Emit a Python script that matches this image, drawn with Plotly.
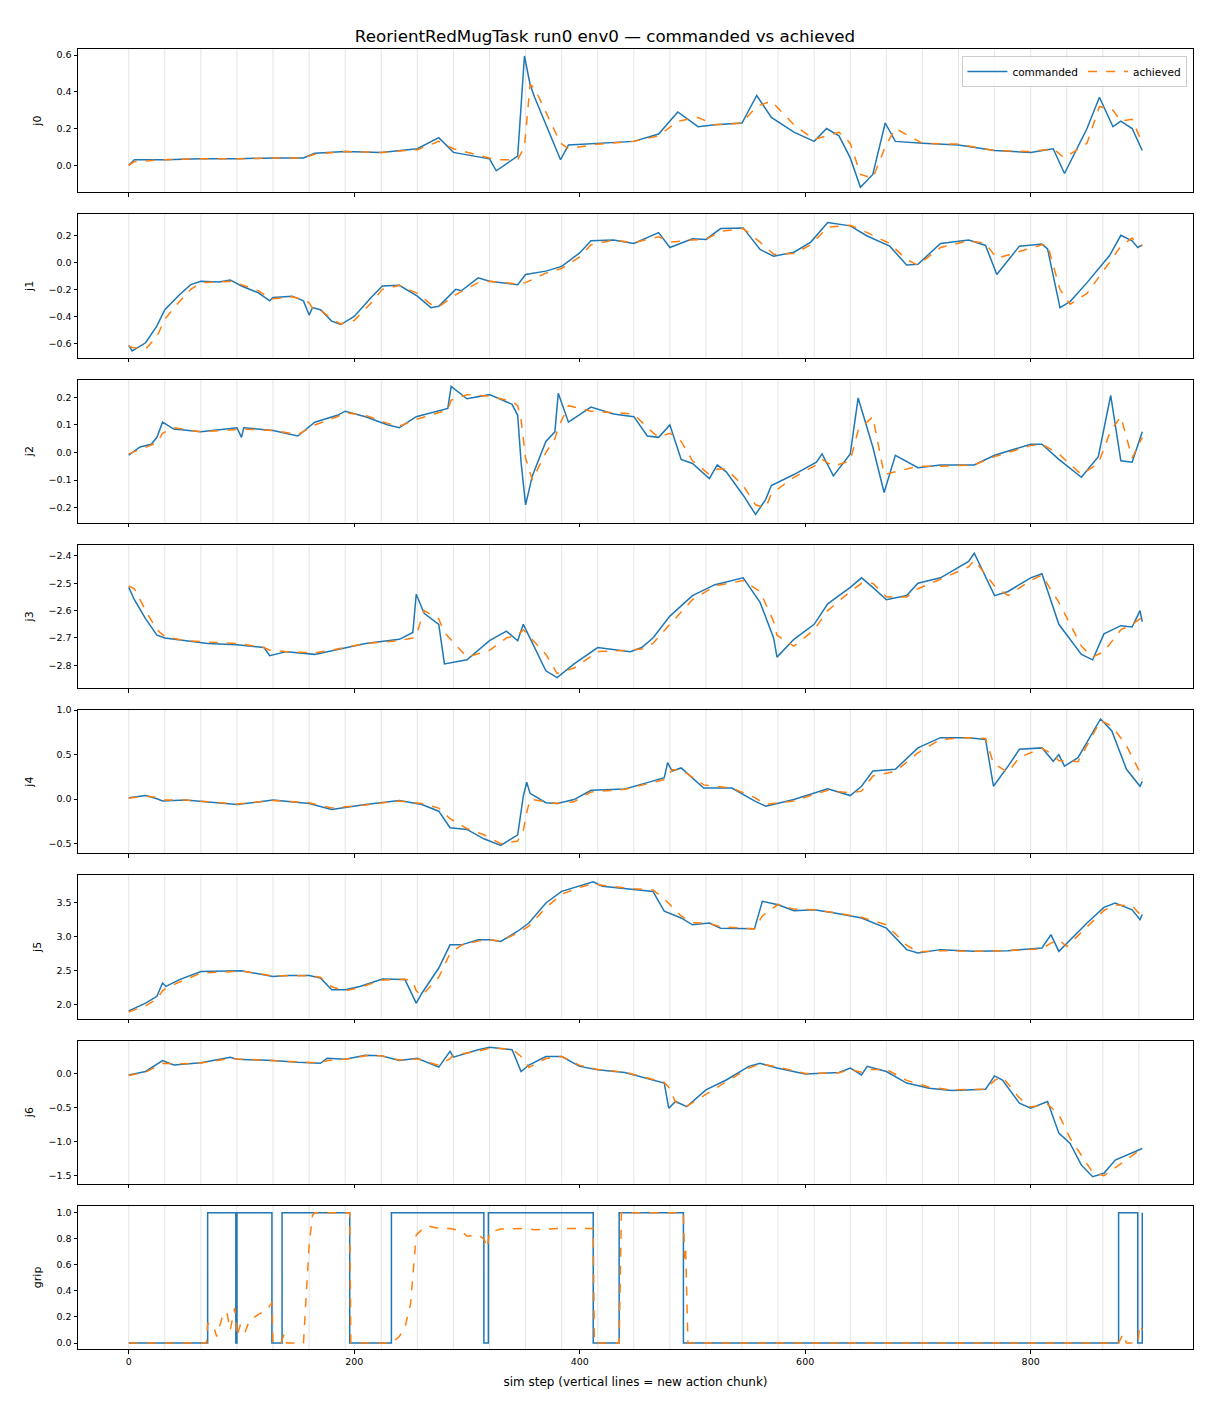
import plotly.graph_objects as go
from plotly.subplots import make_subplots

# ---------------- data ----------------
chunk_starts = [0, 32, 64, 96, 128, 160, 192, 224, 256, 288, 320, 352, 384, 416, 448,
                480, 512, 544, 576, 608, 640, 672, 704, 736, 768, 800, 832, 864, 896]

steps0 = [0, 5, 32, 64, 96, 128, 155, 165, 192, 224, 256, 275, 288, 320, 326, 345, 351, 356, 360, 383,
          390, 416, 448, 470, 487, 505, 520, 544, 557, 570, 590, 608, 619, 630, 640, 649, 660, 671, 680, 704,
          736, 768, 800, 820, 830, 850, 861, 873, 880, 890, 899]
cmd0 = [0.0, 0.03, 0.03, 0.035, 0.035, 0.04, 0.04, 0.065, 0.075, 0.07,
        0.09, 0.15, 0.07, 0.035, -0.03, 0.05, 0.595, 0.44, 0.37, 0.03,
        0.11, 0.12, 0.13, 0.17, 0.29, 0.21, 0.22, 0.23, 0.38, 0.26,
        0.18, 0.13, 0.2, 0.16, 0.04, -0.12, -0.05, 0.23, 0.13, 0.12,
        0.11, 0.08, 0.07, 0.09, -0.045, 0.2, 0.37, 0.21, 0.24, 0.2, 0.08]
ach0 = [0.0, 0.02, 0.03, 0.035, 0.035, 0.04, 0.04, 0.06, 0.075, 0.07,
        0.085, 0.13, 0.09, 0.04, 0.03, 0.03, 0.1, 0.44, 0.42, 0.12,
        0.09, 0.115, 0.13, 0.16, 0.24, 0.26, 0.22, 0.23, 0.32, 0.35,
        0.22, 0.14, 0.16, 0.18, 0.12, -0.05, -0.07, 0.1, 0.2, 0.12,
        0.115, 0.08, 0.075, 0.09, 0.04, 0.12, 0.32, 0.3, 0.24, 0.25, 0.12]

steps1 = [0, 3, 15, 25, 32, 45, 55, 64, 80, 90, 100, 115, 125, 128, 145, 155, 160, 163, 170, 180,
          188, 200, 215, 225, 240, 256, 268, 275, 290, 295, 310, 320, 345, 352, 370, 384, 400, 410, 430, 448,
          470, 480, 500, 512, 525, 545, 560, 572, 590, 605, 620, 640, 655, 675, 690, 700, 720, 745, 760, 770,
          790, 810, 815, 826, 835, 850, 870, 880, 890, 895, 899]
cmd1 = [-0.615, -0.655, -0.595, -0.47, -0.35, -0.24, -0.165, -0.14, -0.145, -0.13,
        -0.175, -0.225, -0.285, -0.26, -0.25, -0.285, -0.39, -0.335, -0.35, -0.435,
        -0.46, -0.4, -0.26, -0.175, -0.17, -0.25, -0.335, -0.325, -0.2, -0.21,
        -0.115, -0.14, -0.165, -0.09, -0.065, -0.03, 0.07, 0.16, 0.165, 0.14,
        0.22, 0.11, 0.175, 0.17, 0.25, 0.255, 0.095, 0.045, 0.075, 0.15,
        0.295, 0.27, 0.195, 0.12, -0.02, -0.015, 0.14, 0.165, 0.125, -0.09,
        0.12, 0.135, 0.1, -0.335, -0.29, -0.15, 0.05, 0.2, 0.16, 0.11, 0.13]
ach1 = [-0.62, -0.63, -0.64, -0.55, -0.42, -0.29, -0.2, -0.15, -0.145, -0.14,
        -0.165, -0.21, -0.265, -0.27, -0.255, -0.275, -0.3, -0.34, -0.35, -0.42,
        -0.455, -0.43, -0.3, -0.2, -0.17, -0.23, -0.31, -0.33, -0.24, -0.215,
        -0.15, -0.14, -0.16, -0.15, -0.08, -0.045, 0.04, 0.13, 0.165, 0.145,
        0.19, 0.15, 0.165, 0.17, 0.23, 0.25, 0.15, 0.06, 0.065, 0.13,
        0.26, 0.275, 0.22, 0.14, 0.02, -0.02, 0.11, 0.16, 0.14, 0.03,
        0.08, 0.13, 0.13, -0.2, -0.31, -0.23, 0.0, 0.12, 0.18, 0.14, 0.12]

steps2 = [0, 10, 20, 25, 30, 40, 64, 96, 100, 102, 128, 150, 165, 185, 192, 210, 230, 240, 255, 270,
          283, 286, 300, 320, 340, 345, 348, 352, 358, 370, 378, 381, 390, 410, 430, 448, 460, 470, 480, 490,
          500, 515, 522, 530, 545, 556, 565, 570, 590, 610, 615, 625, 640, 647, 660, 670, 680, 700, 720, 750,
          768, 800, 810, 825, 845, 860, 871, 880, 890, 899]
cmd2 = [-0.01, 0.02, 0.03, 0.055, 0.11, 0.085, 0.075, 0.09, 0.055, 0.09,
        0.08, 0.06, 0.11, 0.135, 0.15, 0.13, 0.1, 0.09, 0.13, 0.145,
        0.16, 0.24, 0.195, 0.21, 0.175, 0.135, -0.035, -0.19, -0.085, 0.04,
        0.075, 0.215, 0.11, 0.165, 0.14, 0.13, 0.06, 0.055, 0.1, -0.025,
        -0.04, -0.095, -0.045, -0.07, -0.155, -0.225, -0.17, -0.12, -0.08, -0.035,
        -0.005, -0.085, -0.005, 0.198, 0.02, -0.145, -0.01, -0.055, -0.045, -0.045,
        -0.01, 0.03, 0.03, -0.025, -0.09, -0.015, 0.207, -0.03, -0.035, 0.075]
ach2 = [-0.005, 0.01, 0.025, 0.035, 0.07, 0.09, 0.075, 0.085, 0.085, 0.085,
        0.08, 0.065, 0.1, 0.13, 0.145, 0.135, 0.105, 0.095, 0.12, 0.14,
        0.155, 0.19, 0.21, 0.205, 0.185, 0.17, 0.12, -0.02, -0.1, 0.0,
        0.05, 0.09, 0.17, 0.15, 0.145, 0.14, 0.09, 0.055, 0.07, 0.04,
        -0.03, -0.08, -0.06, -0.06, -0.12, -0.19, -0.2, -0.15, -0.09, -0.045,
        -0.025, -0.05, -0.03, 0.08, 0.13, -0.08, -0.07, -0.05, -0.05, -0.045,
        -0.015, 0.025, 0.03, -0.005, -0.08, -0.04, 0.08, 0.13, -0.02, 0.055]

steps3 = [0, 5, 15, 25, 32, 50, 70, 96, 120, 125, 140, 165, 192, 210, 240, 252, 255, 262, 275, 280,
          300, 320, 335, 345, 350, 370, 380, 395, 416, 445, 455, 465, 480, 500, 520, 545, 560, 572, 575, 590,
          608, 620, 640, 650, 660, 672, 690, 700, 720, 745, 750, 768, 780, 800, 810, 825, 845, 855, 865, 880,
          890, 897, 899]
cmd3 = [-2.515, -2.56, -2.63, -2.69, -2.70, -2.71, -2.72, -2.725, -2.735, -2.765,
        -2.75, -2.76, -2.735, -2.72, -2.705, -2.68, -2.54, -2.61, -2.65, -2.795,
        -2.78, -2.71, -2.675, -2.71, -2.65, -2.82, -2.845, -2.795, -2.735, -2.75,
        -2.735, -2.7, -2.62, -2.545, -2.505, -2.48, -2.57, -2.7, -2.77, -2.705,
        -2.65, -2.575, -2.515, -2.48, -2.515, -2.56, -2.545, -2.5, -2.48, -2.42,
        -2.39, -2.545, -2.53, -2.48, -2.465, -2.65, -2.76, -2.78, -2.685, -2.655,
        -2.66, -2.6, -2.64]
ach3 = [-2.51, -2.52, -2.6, -2.67, -2.695, -2.71, -2.715, -2.72, -2.735, -2.745,
        -2.75, -2.755, -2.735, -2.72, -2.71, -2.7, -2.69, -2.6, -2.63, -2.68,
        -2.77, -2.745, -2.7, -2.69, -2.67, -2.76, -2.83, -2.81, -2.75, -2.745,
        -2.74, -2.72, -2.65, -2.56, -2.51, -2.49, -2.53, -2.64, -2.69, -2.73,
        -2.67, -2.6, -2.53, -2.5, -2.5, -2.55, -2.55, -2.52, -2.485, -2.44,
        -2.415, -2.51, -2.545, -2.49, -2.47, -2.57, -2.73, -2.77, -2.75, -2.67,
        -2.65, -2.63, -2.63]

steps4 = [0, 15, 25, 30, 50, 96, 128, 160, 180, 210, 240, 260, 275, 285, 300, 315, 330, 345, 350, 353,
          356, 370, 380, 395, 410, 440, 460, 475, 478, 482, 490, 510, 535, 555, 565, 590, 620, 640, 650, 660,
          680, 700, 720, 745, 760, 767, 780, 790, 810, 820, 825, 830, 842, 862, 872, 885, 897, 899]
cmd4 = [0.015, 0.04, 0.005, -0.02, -0.01, -0.06, -0.01, -0.05, -0.115, -0.06,
        -0.015, -0.06, -0.135, -0.32, -0.34, -0.445, -0.52, -0.4, 0.035, 0.19,
        0.065, -0.04, -0.05, -0.005, 0.1, 0.115, 0.185, 0.24, 0.41, 0.315,
        0.35, 0.125, 0.125, -0.02, -0.08, -0.005, 0.115, 0.04, 0.145, 0.315,
        0.335, 0.575, 0.69, 0.69, 0.67, 0.145, 0.37, 0.56, 0.575, 0.425,
        0.5, 0.37, 0.465, 0.9, 0.765, 0.335, 0.145, 0.2]
ach4 = [0.01, 0.035, 0.02, -0.01, -0.01, -0.055, -0.015, -0.04, -0.1, -0.065,
        -0.02, -0.05, -0.1, -0.22, -0.33, -0.4, -0.5, -0.47, -0.35, -0.15,
        0.0, -0.03, -0.05, -0.03, 0.08, 0.11, 0.17, 0.22, 0.25, 0.33,
        0.33, 0.16, 0.125, 0.02, -0.06, -0.02, 0.1, 0.07, 0.09, 0.26,
        0.31, 0.52, 0.67, 0.69, 0.68, 0.4, 0.3, 0.47, 0.57, 0.5,
        0.43, 0.43, 0.42, 0.88, 0.82, 0.6, 0.3, 0.22]

steps5 = [0, 15, 25, 30, 33, 45, 64, 100, 128, 140, 160, 170, 180, 192, 205, 225, 245, 252, 255, 260,
          275, 285, 295, 310, 320, 330, 345, 355, 370, 384, 400, 412, 420, 448, 465, 475, 490, 500, 515, 525,
          545, 555, 562, 576, 590, 608, 625, 650, 672, 690, 700, 720, 750, 780, 810, 818, 825, 832, 850, 865,
          875, 890, 897, 899]
cmd5 = [1.905, 2.02, 2.12, 2.315, 2.265, 2.365, 2.485, 2.495, 2.41, 2.425,
        2.425, 2.39, 2.215, 2.215, 2.265, 2.375, 2.365, 2.12, 2.02, 2.165,
        2.535, 2.875, 2.875, 2.95, 2.95, 2.925, 3.075, 3.195, 3.49, 3.66,
        3.735, 3.8, 3.735, 3.69, 3.66, 3.37, 3.27, 3.17, 3.195, 3.12,
        3.12, 3.11, 3.515, 3.465, 3.375, 3.39, 3.345, 3.27, 3.12, 2.805,
        2.755, 2.805, 2.78, 2.79, 2.83, 3.025, 2.78, 2.9, 3.195, 3.425,
        3.49, 3.39, 3.245, 3.32]
ach5 = [1.89, 1.98, 2.08, 2.2, 2.24, 2.33, 2.46, 2.49, 2.42, 2.42,
        2.42, 2.4, 2.26, 2.2, 2.25, 2.36, 2.37, 2.34, 2.2, 2.13,
        2.4, 2.75, 2.87, 2.93, 2.95, 2.93, 3.05, 3.15, 3.42, 3.62,
        3.72, 3.77, 3.75, 3.7, 3.68, 3.55, 3.3, 3.2, 3.19, 3.14,
        3.12, 3.11, 3.3, 3.47, 3.4, 3.39, 3.35, 3.28, 3.17, 2.87,
        2.77, 2.79, 2.78, 2.79, 2.82, 2.9, 2.95, 2.85, 3.14, 3.38,
        3.46, 3.45, 3.32, 3.3]

steps6 = [0, 15, 30, 40, 64, 90, 96, 128, 150, 170, 176, 192, 210, 224, 240, 256, 275, 285, 288, 310,
          320, 340, 348, 355, 370, 384, 400, 416, 440, 465, 475, 479, 485, 495, 512, 530, 550, 560, 575, 600,
          630, 640, 650, 655, 672, 690, 710, 730, 760, 768, 775, 790, 800, 815, 825, 835, 845, 855, 865, 875,
          890, 899]
cmd6 = [-0.02, 0.03, 0.19, 0.125, 0.16, 0.24, 0.21, 0.19, 0.165, 0.15,
        0.225, 0.21, 0.27, 0.26, 0.19, 0.225, 0.095, 0.325, 0.24, 0.35,
        0.385, 0.35, 0.03, 0.125, 0.25, 0.25, 0.105, 0.055, 0.015, -0.095,
        -0.14, -0.51, -0.41, -0.485, -0.24, -0.095, 0.105, 0.15, 0.08, -0.005,
        0.015, 0.08, -0.02, 0.105, 0.03, -0.14, -0.215, -0.25, -0.23, -0.035,
        -0.095, -0.435, -0.51, -0.41, -0.875, -1.025, -1.345, -1.515, -1.465, -1.27,
        -1.17, -1.1]
ach6 = [-0.03, 0.02, 0.15, 0.14, 0.155, 0.22, 0.215, 0.19, 0.17, 0.155,
        0.19, 0.21, 0.26, 0.26, 0.2, 0.215, 0.12, 0.22, 0.27, 0.33,
        0.37, 0.36, 0.25, 0.09, 0.22, 0.25, 0.12, 0.06, 0.02, -0.08,
        -0.13, -0.2, -0.42, -0.48, -0.3, -0.12, 0.08, 0.14, 0.1, 0.0,
        0.01, 0.06, 0.02, 0.06, 0.06, -0.1, -0.2, -0.24, -0.23, -0.1,
        -0.05, -0.36, -0.49, -0.45, -0.6, -0.95, -1.2, -1.45, -1.5, -1.38,
        -1.2, -1.1]

grip_cmd_steps = [0, 70, 95, 96, 127, 136, 196, 233, 315, 319, 412, 435, 492, 878, 895, 899]
grip_cmd = [0, 1, 0, 1, 0, 1, 0, 1, 0, 1, 0, 1, 0, 1, 0, 1]

grip_ach_steps = [0, 69, 70, 75, 78, 83, 87, 90, 94, 96, 99, 103, 107, 115, 122, 127, 128, 135, 138, 140,
                  155, 158, 160, 163, 165, 196, 197, 233, 240, 245, 250, 255, 260, 265, 275, 285, 295, 300, 310, 315,
                  318, 320, 330, 350, 360, 380, 412, 413, 435, 437, 492, 493, 494, 496, 878, 882, 885, 895, 897, 899]
grip_ach = [0.0, 0.0, 0.15, 0.14, 0.05, 0.2, 0.24, 0.1, 0.27, 0.05,
            0.14, 0.08, 0.17, 0.22, 0.25, 0.31, 0.0, 0.0, 0.07, 0.0,
            0.0, 0.4, 0.75, 0.98, 1.0, 1.0, 0.0, 0.0, 0.05, 0.12,
            0.3, 0.83, 0.87, 0.9, 0.88, 0.88, 0.86, 0.82, 0.83, 0.8,
            0.73, 0.85, 0.875, 0.88, 0.87, 0.88, 0.88, 0.0, 0.0, 1.0,
            1.0, 0.65, 0.72, 0.0, 0.0, 0.07, 0.0, 0.0, 0.14, 0.1]

panel_names = ["j0", "j1", "j2", "j3", "j4", "j5", "j6", "grip"]
y_ranges = [[-0.147, 0.633], [-0.704, 0.356], [-0.255, 0.265], [-2.883, -2.359],
            [-0.607, 1.0], [1.794, 3.897], [-1.618, 0.485], [-0.046, 1.054]]
y_dticks = [0.2, 0.2, 0.1, 0.1, 0.5, 0.5, 0.5, 0.2]
x_ticks = [0, 200, 400, 600, 800]

# ---------------- figure ----------------
BLUE = "#1f77b4"
ORANGE = "#ff7f0e"
FONT = "DejaVu Sans"

fig = make_subplots(rows=8, cols=1, shared_xaxes=True, vertical_spacing=22 / 1300)

series = [
    (steps0, cmd0, steps0, ach0),
    (steps1, cmd1, steps1, ach1),
    (steps2, cmd2, steps2, ach2),
    (steps3, cmd3, steps3, ach3),
    (steps4, cmd4, steps4, ach4),
    (steps5, cmd5, steps5, ach5),
    (steps6, cmd6, steps6, ach6),
]

for i, (sx, cy, ax_, ay) in enumerate(series):
    r = i + 1
    fig.add_trace(go.Scatter(x=sx, y=cy, mode="lines", name="commanded",
                             line=dict(color=BLUE, width=1.5), showlegend=(i == 0),
                             legendgroup="c"), row=r, col=1)
    fig.add_trace(go.Scatter(x=ax_, y=ay, mode="lines", name="achieved",
                             line=dict(color=ORANGE, width=1.5, dash="dash"), showlegend=(i == 0),
                             legendgroup="a"), row=r, col=1)

fig.add_trace(go.Scatter(x=grip_cmd_steps, y=grip_cmd, mode="lines", name="commanded",
                         line=dict(color=BLUE, width=1.5, shape="hv"), showlegend=False), row=8, col=1)
fig.add_trace(go.Scatter(x=grip_ach_steps, y=grip_ach, mode="lines", name="achieved",
                         line=dict(color=ORANGE, width=1.5, dash="dash"), showlegend=False), row=8, col=1)

# vertical chunk lines
for r in range(1, 9):
    for c in chunk_starts:
        fig.add_vline(x=c, line=dict(color="#dddddd", width=0.8), layer="below", row=r, col=1)

for r in range(1, 9):
    fig.update_yaxes(row=r, col=1, range=y_ranges[r - 1], dtick=y_dticks[r - 1],
                     tickformat=".1f", title=dict(text=panel_names[r - 1], font=dict(size=11, color="black"), standoff=12),
                     showline=True, mirror=True, linecolor="black", linewidth=1,
                     ticks="outside", ticklen=3.5, tickcolor="black", tickwidth=0.8,
                     showgrid=False, zeroline=False, tickfont=dict(size=9.5, color="black"))
    fig.update_xaxes(row=r, col=1, range=[-45, 944], tickvals=x_ticks,
                     showline=True, mirror=True, linecolor="black", linewidth=1,
                     ticks="outside", ticklen=3.5, tickcolor="black", tickwidth=0.8,
                     showgrid=False, zeroline=False, tickfont=dict(size=9.5, color="black"),
                     showticklabels=(r == 8))

fig.update_xaxes(row=8, col=1, title=dict(text="sim step (vertical lines = new action chunk)",
                                          font=dict(size=12, color="black"), standoff=11))

# page body has an 8px margin, so the figure is 8px smaller and offset
fig.update_layout(
    width=1202, height=1400,
    margin=dict(l=70, r=17, t=41, b=59),
    paper_bgcolor="white", plot_bgcolor="white",
    font=dict(family=FONT, color="black"),
    title=dict(text="ReorientRedMugTask run0 env0 — commanded vs achieved",
               x=597 / 1202, xref="container", xanchor="center",
               y=1 - 28 / 1400, yref="container", yanchor="middle",
               font=dict(size=16.7, color="black")),
    legend=dict(orientation="h", x=0.995, xanchor="right", y=0.9946, yanchor="top",
                bgcolor="rgba(255,255,255,0.8)", bordercolor="#cccccc", borderwidth=1,
                font=dict(size=10.5, color="black"), itemwidth=40),
)

fig.write_html("out.html")
